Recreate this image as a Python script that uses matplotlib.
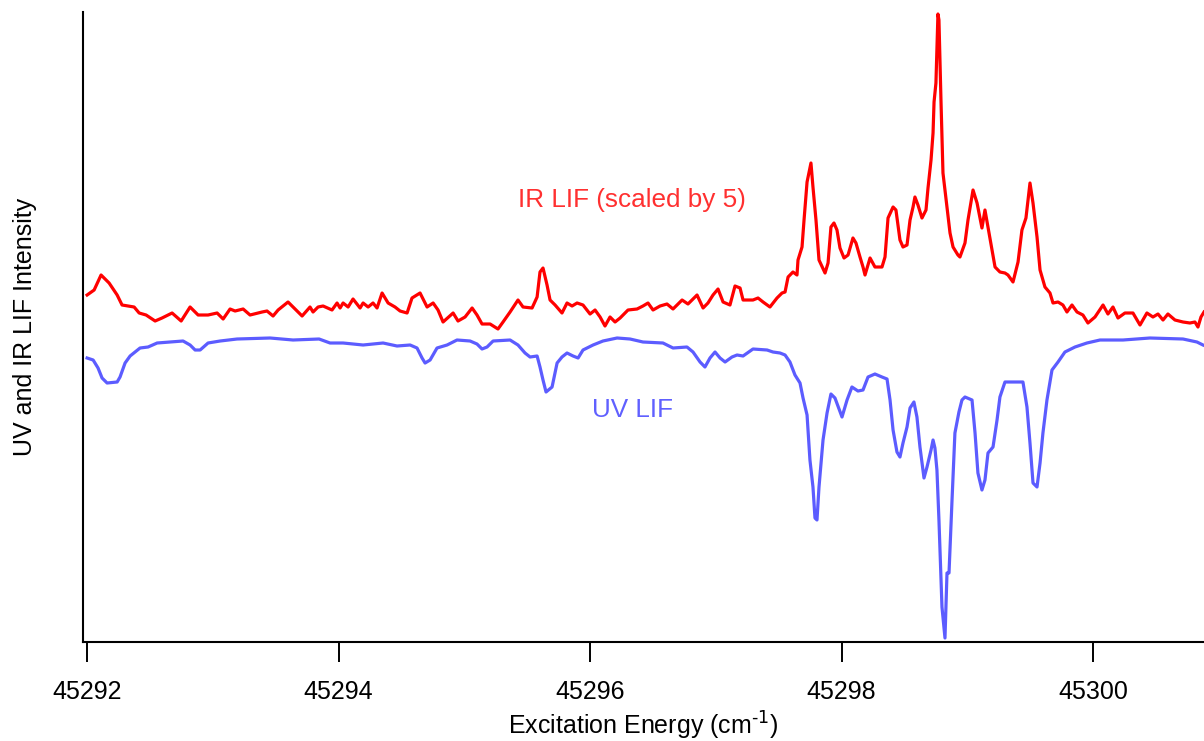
import numpy as np
import matplotlib
matplotlib.use("Agg")
import matplotlib.pyplot as plt

plt.rcParams['font.family'] = ['Liberation Sans', 'DejaVu Sans']

# excitation energy measured from 45292 cm-1
origin = 45292.0

# IR LIF trace, already scaled by 5 and offset above the UV trace (a.u.)
ir_shift = [
    0.000, 0.056, 0.111, 0.175, 0.239, 0.278, 0.374, 0.414, 0.469, 0.493,
    0.541, 0.596, 0.676, 0.748, 0.819, 0.883, 0.962, 1.034, 1.082, 1.137,
    1.177, 1.241, 1.296, 1.392, 1.431, 1.479, 1.519, 1.598, 1.638, 1.710,
    1.773, 1.797, 1.837, 1.877, 1.948, 1.988, 2.012, 2.036, 2.076, 2.115,
    2.171, 2.195, 2.235, 2.274, 2.306, 2.346, 2.394, 2.449, 2.489, 2.545,
    2.584, 2.648, 2.704, 2.752, 2.791, 2.831, 2.911, 2.950, 3.006, 3.062,
    3.101, 3.141, 3.205, 3.268, 3.308, 3.364, 3.427, 3.467, 3.539, 3.579,
    3.602, 3.626, 3.658, 3.682, 3.722, 3.777, 3.817, 3.857, 3.897, 3.944,
    4.000, 4.040, 4.080, 4.119, 4.159, 4.199, 4.239, 4.302, 4.374, 4.421,
    4.461, 4.501, 4.557, 4.612, 4.660, 4.732, 4.779, 4.851, 4.899, 4.938,
    4.978, 5.018, 5.058, 5.113, 5.153, 5.193, 5.217, 5.296, 5.336, 5.376,
    5.431, 5.487, 5.527, 5.551, 5.575, 5.614, 5.646, 5.654, 5.686, 5.702,
    5.726, 5.757, 5.773, 5.797, 5.821, 5.869, 5.893, 5.916, 5.940, 5.964,
    5.988, 6.020, 6.052, 6.091, 6.115, 6.147, 6.171, 6.187, 6.227, 6.266,
    6.322, 6.346, 6.370, 6.410, 6.433, 6.465, 6.489, 6.521, 6.545, 6.569,
    6.584, 6.608, 6.640, 6.672, 6.688, 6.712, 6.728, 6.736, 6.751, 6.767,
    6.775, 6.791, 6.807, 6.839, 6.863, 6.887, 6.926, 6.942, 6.982, 7.006,
    7.046, 7.078, 7.117, 7.141, 7.165, 7.197, 7.221, 7.260, 7.300, 7.324,
    7.364, 7.404, 7.435, 7.467, 7.499, 7.523, 7.555, 7.579, 7.618, 7.658,
    7.682, 7.722, 7.761, 7.793, 7.833, 7.873, 7.920, 7.960, 8.016, 8.080,
    8.119, 8.159, 8.199, 8.254, 8.318, 8.374, 8.429, 8.477, 8.517, 8.557,
    8.596, 8.652, 8.716, 8.771, 8.811, 8.835, 8.859, 8.883,
]
ir_signal = [
    3.47, 3.52, 3.67, 3.59, 3.47, 3.37, 3.35, 3.29, 3.27, 3.25,
    3.21, 3.24, 3.29, 3.21, 3.35, 3.27, 3.27, 3.29, 3.23, 3.33,
    3.31, 3.33, 3.27, 3.30, 3.31, 3.26, 3.32, 3.40, 3.35, 3.26,
    3.35, 3.30, 3.35, 3.36, 3.32, 3.39, 3.34, 3.39, 3.35, 3.43,
    3.34, 3.39, 3.35, 3.39, 3.34, 3.49, 3.39, 3.35, 3.31, 3.29,
    3.44, 3.49, 3.35, 3.39, 3.32, 3.20, 3.29, 3.21, 3.25, 3.34,
    3.27, 3.18, 3.18, 3.13, 3.20, 3.30, 3.42, 3.35, 3.34, 3.45,
    3.70, 3.74, 3.57, 3.42, 3.37, 3.29, 3.39, 3.36, 3.39, 3.37,
    3.28, 3.32, 3.25, 3.16, 3.25, 3.20, 3.24, 3.32, 3.33, 3.36,
    3.39, 3.32, 3.36, 3.38, 3.33, 3.42, 3.38, 3.47, 3.34, 3.39,
    3.47, 3.53, 3.40, 3.37, 3.56, 3.54, 3.42, 3.42, 3.44, 3.40,
    3.35, 3.44, 3.49, 3.50, 3.65, 3.70, 3.67, 3.82, 3.95, 4.22,
    4.60, 4.79, 4.55, 4.22, 3.82, 3.69, 3.79, 4.15, 4.19, 4.12,
    3.94, 3.84, 3.87, 4.04, 3.99, 3.85, 3.75, 3.67, 3.84, 3.75,
    3.75, 3.85, 4.24, 4.35, 4.32, 4.02, 3.95, 3.97, 4.22, 4.35,
    4.45, 4.37, 4.24, 4.32, 4.54, 4.82, 5.09, 5.40, 5.59, 6.28,
    6.22, 5.42, 4.69, 4.35, 4.09, 3.95, 3.87, 3.85, 3.99, 4.22,
    4.52, 4.39, 4.14, 4.32, 4.15, 3.92, 3.75, 3.70, 3.69, 3.67,
    3.60, 3.80, 4.12, 4.24, 4.59, 4.39, 4.05, 3.72, 3.55, 3.49,
    3.39, 3.40, 3.37, 3.30, 3.37, 3.30, 3.27, 3.19, 3.25, 3.37,
    3.28, 3.35, 3.24, 3.29, 3.29, 3.17, 3.29, 3.25, 3.28, 3.22,
    3.28, 3.22, 3.20, 3.19, 3.20, 3.15, 3.25, 3.30,
]

# UV LIF trace, plotted inverted (a.u.)
uv_shift = [
    0.000, 0.048, 0.087, 0.119, 0.159, 0.239, 0.262, 0.302, 0.342, 0.421,
    0.485, 0.557, 0.660, 0.763, 0.819, 0.859, 0.899, 0.962, 1.058, 1.193,
    1.455, 1.638, 1.845, 1.932, 2.036, 2.195, 2.354, 2.465, 2.569, 2.624,
    2.664, 2.688, 2.728, 2.783, 2.863, 2.942, 3.046, 3.101, 3.141, 3.181,
    3.229, 3.364, 3.427, 3.483, 3.523, 3.579, 3.602, 3.626, 3.650, 3.698,
    3.738, 3.777, 3.817, 3.865, 3.905, 3.944, 4.024, 4.103, 4.215, 4.318,
    4.421, 4.580, 4.660, 4.771, 4.819, 4.875, 4.914, 4.954, 4.994, 5.034,
    5.074, 5.129, 5.169, 5.217, 5.296, 5.408, 5.455, 5.511, 5.551, 5.590,
    5.630, 5.670, 5.694, 5.726, 5.749, 5.773, 5.789, 5.805, 5.821, 5.853,
    5.885, 5.916, 5.948, 6.004, 6.044, 6.083, 6.131, 6.171, 6.211, 6.266,
    6.322, 6.362, 6.386, 6.410, 6.441, 6.465, 6.489, 6.521, 6.545, 6.576,
    6.600, 6.624, 6.656, 6.680, 6.712, 6.728, 6.743, 6.759, 6.775, 6.799,
    6.823, 6.839, 6.855, 6.879, 6.902, 6.934, 6.958, 6.982, 7.038, 7.062,
    7.085, 7.117, 7.141, 7.165, 7.205, 7.237, 7.260, 7.300, 7.364, 7.443,
    7.475, 7.499, 7.523, 7.555, 7.579, 7.602, 7.634, 7.674, 7.722, 7.777,
    7.857, 7.952, 8.056, 8.239, 8.453, 8.716, 8.827, 8.875,
]
uv_signal = [
    2.84, 2.82, 2.74, 2.64, 2.59, 2.60, 2.65, 2.79, 2.86, 2.94,
    2.95, 2.99, 3.00, 3.01, 2.97, 2.92, 2.92, 2.99, 3.01, 3.03,
    3.04, 3.02, 3.03, 2.99, 2.99, 2.97, 2.99, 2.96, 2.97, 2.94,
    2.84, 2.79, 2.82, 2.94, 2.97, 3.02, 3.01, 2.98, 2.93, 2.95,
    3.01, 3.02, 2.97, 2.89, 2.85, 2.86, 2.75, 2.62, 2.50, 2.55,
    2.79, 2.85, 2.89, 2.86, 2.84, 2.92, 2.97, 3.01, 3.04, 3.03,
    3.00, 2.99, 2.94, 2.95, 2.90, 2.80, 2.75, 2.84, 2.90, 2.84,
    2.80, 2.85, 2.87, 2.86, 2.93, 2.92, 2.90, 2.89, 2.87, 2.80,
    2.67, 2.59, 2.44, 2.27, 1.82, 1.55, 1.24, 1.22, 1.55, 2.02,
    2.29, 2.48, 2.44, 2.25, 2.42, 2.55, 2.51, 2.52, 2.65, 2.68,
    2.65, 2.63, 2.42, 2.12, 1.90, 1.85, 1.99, 2.15, 2.34, 2.40,
    2.25, 1.95, 1.64, 1.75, 1.92, 2.02, 1.94, 1.72, 1.22, 0.35,
    0.04, 0.69, 0.69, 1.42, 2.09, 2.30, 2.42, 2.45, 2.42, 2.09,
    1.69, 1.52, 1.62, 1.89, 1.95, 2.22, 2.45, 2.60, 2.60, 2.60,
    2.35, 1.99, 1.59, 1.55, 1.79, 2.09, 2.42, 2.72, 2.80, 2.90,
    2.95, 2.99, 3.02, 3.02, 3.04, 3.03, 3.00, 2.97,
]

ir_energy = origin + np.array(ir_shift)
uv_energy = origin + np.array(uv_shift)

fig = plt.figure(figsize=(12.04, 7.41), dpi=100)
ax = fig.add_axes([0.069, 0.1336, 0.931, 0.8502])

ax.plot(ir_energy, ir_signal, color='#ff0000', lw=2.3, clip_on=False)
ax.plot(uv_energy, uv_signal, color='#5c5cff', lw=2.3, clip_on=False)

ax.text(45296.334, 4.42, 'IR LIF (scaled by 5)', color='#ff3030',
        fontsize=18.8, ha='center', va='center')
ax.text(45296.334, 2.32, 'UV LIF', color='#6060ff',
        fontsize=18.8, ha='center', va='center')

ax.set_xlim(45291.968, 45300.883)
ax.set_ylim(0, 6.30)
ax.set_xticks([45292, 45294, 45296, 45298, 45300])
ax.set_xticklabels(['45292', '45294', '45296', '45298', '45300'])
ax.set_yticks([])
ax.tick_params(axis='x', direction='out', length=14.5, width=1.4,
               pad=13, labelsize=18)

for side in ('top', 'right'):
    ax.spines[side].set_visible(False)
for side in ('left', 'bottom'):
    ax.spines[side].set_linewidth(1.5)

ax.set_xlabel('Excitation Energy (cm$^{\\text{-1}}$)', fontsize=18, labelpad=4)
ax.set_ylabel('UV and IR LIF Intensity', fontsize=18, labelpad=33)

fig.savefig('out.png', dpi=100)
